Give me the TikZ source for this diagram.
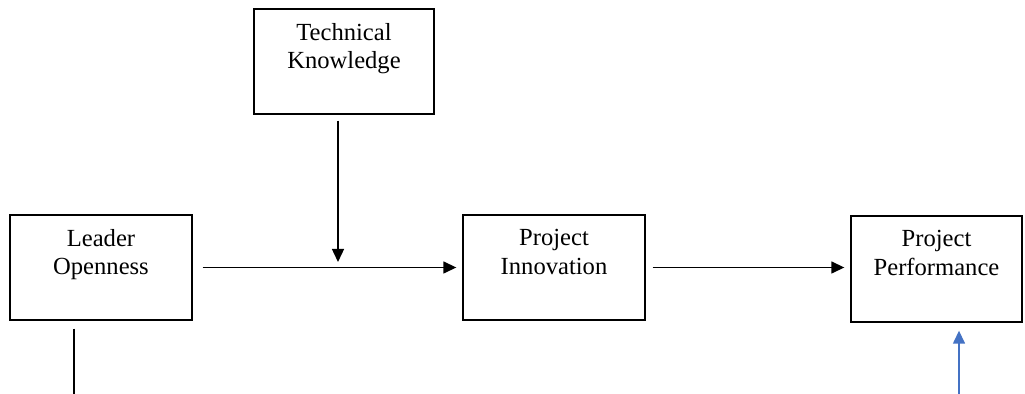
\documentclass[tikz,border=0pt]{standalone}
\usepackage{fontspec}
\setmainfont{Liberation Serif}
\usetikzlibrary{arrows.meta}
\definecolor{arrowblue}{HTML}{4472C4}
\begin{document}
\begin{tikzpicture}[x=0.02cm, y=-0.02cm,
  box/.style={draw, line width=0.8pt, minimum width=3.64cm, minimum height=2.1cm, inner sep=0pt},
  boxtext/.style={anchor=north, yshift=-0.3cm, align=center, inner sep=0pt, font=\fontsize{14}{16}\selectfont},
  arr/.style={line width=0.8pt, -{Triangle[length=0.26cm, width=0.24cm]}}]
  \useasboundingbox (0,0) rectangle (1025,394);

  % Boxes
  \node[box, minimum width=3.6cm, label={[boxtext]north:{Technical\\Knowledge}}] (tk) at (344,61.5) {};
  \node[box, label={[boxtext]north:{Leader\\Openness}}] (lo) at (101,267.5) {};
  \node[box, label={[boxtext]north:{Project\\Innovation}}] (pi) at (554,267.5) {};
  \node[box, minimum width=3.42cm, minimum height=2.12cm, label={[boxtext]north:{Project\\Performance}}] (pp) at (936.5,269) {};

  % Free ends
  \coordinate (join) at (338,268);
  \coordinate (lobase) at (74,394);
  \coordinate (ppbase) at (959,394);

  % Arrows
  \draw[arr, shorten <=0.2cm, shorten >=0.12cm] (lo.east) -- (lo.east -| pi.west);
  \draw[arr, shorten <=0.12cm, shorten >=0.12cm] (tk.south -| join) -- (join);
  \draw[arr, shorten <=0.14cm, shorten >=0.12cm] (pi.east) -- (pi.east -| pp.west);
  \draw[line width=0.8pt, shorten <=0.16cm] (lo.south -| lobase) -- (lobase);
  \draw[arr, arrowblue, shorten >=0.16cm] (ppbase) -- (pp.south -| ppbase);
\end{tikzpicture}
\end{document}
